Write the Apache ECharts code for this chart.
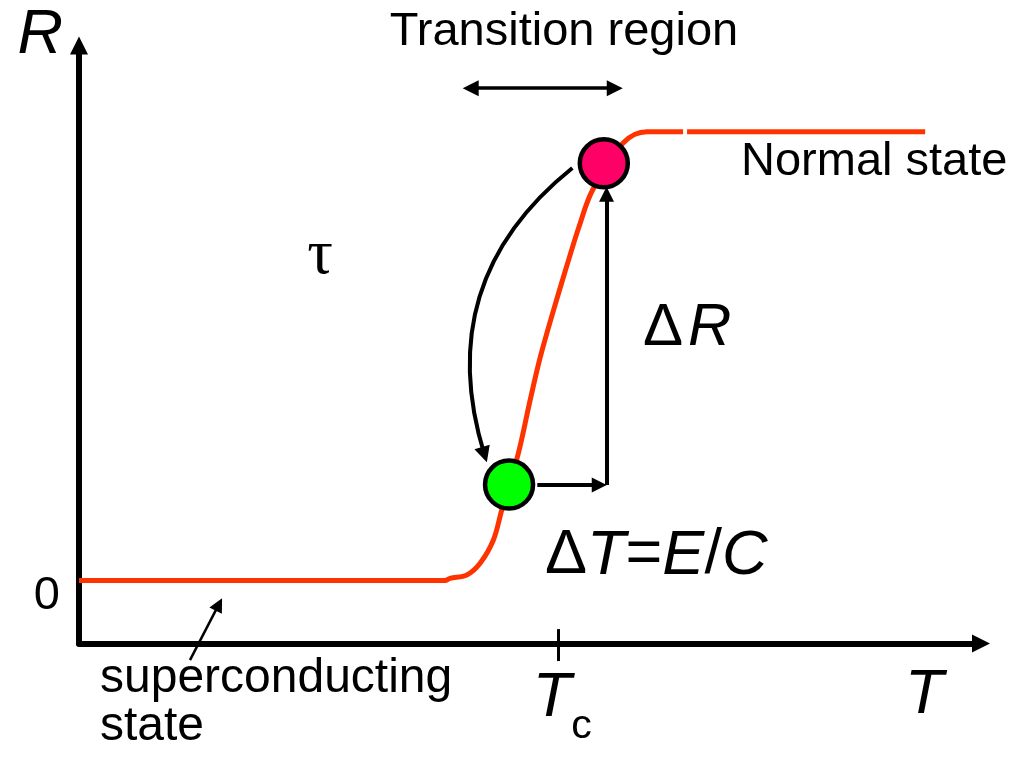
<!DOCTYPE html>
<html>
<head>
<meta charset="utf-8">
<script src="https://cdn.jsdelivr.net/npm/echarts@6/dist/echarts.min.js"></script>
<style>html,body{margin:0;padding:0;background:#fff}#c{width:1027px;height:757px}</style>
</head>
<body>
<div id="c"></div>
<script>
// ---- data (temperature T, resistance R, arbitrary units) ----
const T_RANGE = [0, 99];
const R_RANGE = [-14, 119];
const TC = 52.6;
const R_ZERO_LABEL = [0];
// measured R(T) curve
const curveT = [0, 40.18, 40.72, 42.56, 44.02, 45.48, 46.40, 48.22, 49.51, 50.64, 51.98, 53.40, 54.88, 56.37, 59.72, 62.35, 66.3];
const curveR = [0, 0, 0.49, 1.22, 3.83, 9.01, 15.68, 28.29, 40.08, 49.78, 59.43, 69.06, 78.69, 86.86, 97.3, 99.8, 99.8];
const normalT = [66.74, 92.87];
const normalR = [99.8, 99.8];
// operating points (before / after photon absorption)
const pointT = [47.2, 57.6];
const pointR = [21.35, 92.8];
const pointColors = ['#00FF00', '#FF0066'];
// annotation arrows [from, to]
const stepArrows = [[[50.3, 21.24], [57.1, 21.24]], [[57.9, 21.24], [57.9, 85.9]]];
const relaxArrow = [[54.15, 91.75], [44.5, 28.0]];
const transitionArrow = [[42.99, 109.5], [58.8, 109.5]];
const scArrow = [[12.18, -17.7], [15.35, -5.3]];
const tcTick = [[TC, -10.8], [TC, -17.9]];

const FONT = "'Liberation Sans', Arial, sans-serif";
const curveData = curveT.map((t, i) => [t, curveR[i]]).concat([[null, null]], normalT.map((t, i) => [t, normalR[i]]));

const chart = echarts.init(document.getElementById('c'), null, {renderer: 'canvas'});
chart.setOption({
  backgroundColor: '#fff',
  animation: false,
  grid: {left: 79, top: 45.5, width: 902, height: 598},
  xAxis: {
    type: 'value', min: T_RANGE[0], max: T_RANGE[1],
    axisLine: {onZero: false, lineStyle: {color: '#000', width: 6}, symbol: ['none', 'triangle'], symbolSize: [18, 18]},
    axisTick: {show: false}, splitLine: {show: false},
    axisLabel: {
      customValues: [TC], margin: 5,
      formatter: () => '{t|T}{s|c}',
      rich: {
        t: {fontFamily: FONT, fontStyle: 'italic', fontSize: 63, color: '#000', padding: [0, 0, 0, 8]},
        s: {fontFamily: FONT, fontSize: 41, color: '#000', padding: [58, 0, 0, 0]}
      }
    },
    name: '{a|T}', nameLocation: 'end', nameGap: -76,
    nameTextStyle: {verticalAlign: 'middle', rich: {a: {fontFamily: FONT, fontStyle: 'italic', fontSize: 63, color: '#000', padding: [104, 0, 0, 0]}}}
  },
  yAxis: {
    type: 'value', min: R_RANGE[0], max: R_RANGE[1],
    axisLine: {onZero: false, lineStyle: {color: '#000', width: 6}, symbol: ['none', 'triangle'], symbolSize: [18, 18]},
    axisTick: {show: false}, splitLine: {show: false},
    axisLabel: {
      customValues: R_ZERO_LABEL, margin: 19, formatter: v => '{a|' + v + '}',
      verticalAlign: 'middle',
      rich: {a: {fontFamily: FONT, fontSize: 47, color: '#000', padding: [30, 0, 0, 0]}}
    },
    name: 'R', nameLocation: 'end', nameGap: 10,
    nameTextStyle: {fontFamily: FONT, fontStyle: 'italic', fontSize: 63, color: '#000', align: 'right', verticalAlign: 'middle', padding: [0, 16, 0, 0]}
  },
  series: [
    {
      type: 'line', data: curveData, showSymbol: false, smooth: 0.35, connectNulls: false,
      lineStyle: {color: '#FF3300', width: 5}, z: 2
    },
    {
      type: 'lines', coordinateSystem: 'cartesian2d', clip: false, z: 3,
      symbol: ['none', 'triangle'], symbolSize: [17, 15],
      lineStyle: {color: '#000', width: 4, opacity: 1},
      data: stepArrows.map(c => ({coords: c}))
    },
    {
      type: 'lines', coordinateSystem: 'cartesian2d', clip: false, z: 3,
      symbol: ['none', 'triangle'], symbolSize: [15, 16],
      lineStyle: {color: '#000', width: 4, opacity: 1, curveness: -0.34},
      data: [{coords: relaxArrow}]
    },
    {
      type: 'lines', coordinateSystem: 'cartesian2d', clip: false, z: 3,
      symbol: ['triangle', 'triangle'], symbolSize: [16, 16],
      lineStyle: {color: '#000', width: 3.5, opacity: 1},
      data: [{coords: transitionArrow}]
    },
    {
      type: 'lines', coordinateSystem: 'cartesian2d', clip: false, z: 3,
      symbol: ['none', 'triangle'], symbolSize: [13, 14],
      lineStyle: {color: '#000', width: 2.5, opacity: 1},
      data: [{coords: scArrow}]
    },
    {
      type: 'lines', coordinateSystem: 'cartesian2d', clip: false, z: 3,
      symbol: ['none', 'none'],
      lineStyle: {color: '#000', width: 3, opacity: 1},
      data: [{coords: tcTick}]
    },
    {
      type: 'scatter', z: 4, symbolSize: 48,
      data: pointT.map((t, i) => ({value: [t, pointR[i]], itemStyle: {color: pointColors[i]}})),
      itemStyle: {borderColor: '#000', borderWidth: 4.5, opacity: 1}
    }
  ],
  graphic: [
    {type: 'text', position: [564, 32], style: {text: 'Transition region', font: '47px ' + FONT, fill: '#000', textAlign: 'center', textVerticalAlign: 'middle'}},
    {type: 'text', position: [741, 162], style: {text: 'Normal state', font: '47px ' + FONT, fill: '#000', textAlign: 'left', textVerticalAlign: 'middle'}},
    {type: 'text', position: [100, 679], style: {text: 'superconducting', font: '48px ' + FONT, fill: '#000', textAlign: 'left', textVerticalAlign: 'middle'}},
    {type: 'text', position: [100, 727], style: {text: 'state', font: '48px ' + FONT, fill: '#000', textAlign: 'left', textVerticalAlign: 'middle'}},
    {type: 'text', position: [320, 256], style: {text: 'τ', font: "64px 'Liberation Serif', 'DejaVu Serif', serif", fill: '#000', textAlign: 'center', textVerticalAlign: 'middle'}},
    {type: 'text', position: [643, 328], style: {
      text: '{n|Δ}{i|R}', textAlign: 'left', textVerticalAlign: 'middle',
      rich: {n: {font: '60px ' + FONT, fill: '#000'}, i: {font: 'italic 60px ' + FONT, fill: '#000', padding: [0, 0, 0, 5]}}
    }},
    {type: 'text', position: [545, 556], style: {
      text: '{n|Δ}{i|T}{n|=}{i|E}{n|/}{i|C}', textAlign: 'left', textVerticalAlign: 'middle',
      rich: {n: {font: '63px ' + FONT, fill: '#000'}, i: {font: 'italic 63px ' + FONT, fill: '#000'}}
    }}
  ]
});
</script>
</body>
</html>
